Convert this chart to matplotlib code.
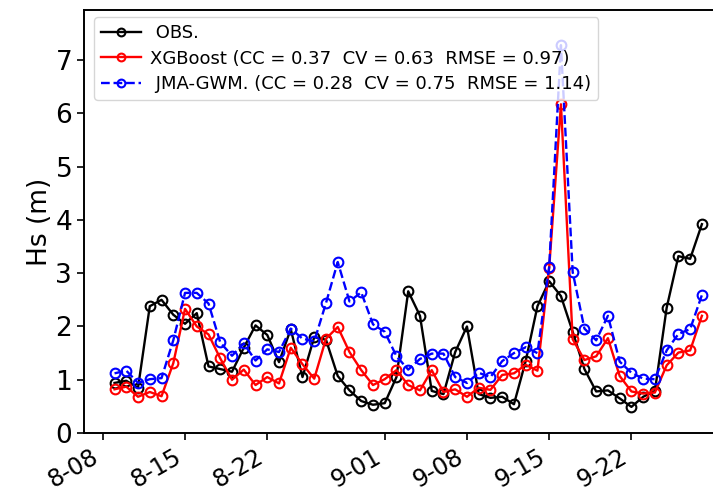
import matplotlib
matplotlib.use("Agg")
import matplotlib.pyplot as plt
import matplotlib.dates as mdates
import pandas as pd

# daily values, 8-09 .. 9-28
days = pd.date_range("2020-08-09", "2020-09-28", freq="D")

obs = [0.94, 0.98, 0.85, 2.38, 2.50, 2.22, 2.05, 2.25, 1.25, 1.20,
       1.15, 1.60, 2.02, 1.84, 1.33, 1.95, 1.05, 1.80, 1.75, 1.07,
       0.80, 0.60, 0.53, 0.56, 1.05, 2.66, 2.20, 0.79, 0.73, 1.52,
       2.00, 0.73, 0.66, 0.68, 0.54, 1.35, 2.38, 2.85, 2.57, 1.90,
       1.20, 0.78, 0.80, 0.65, 0.49, 0.68, 0.79, 2.35, 3.32, 3.27,
       3.92]
xgb = [0.82, 0.87, 0.68, 0.77, 0.69, 1.31, 2.33, 2.00, 1.85, 1.40,
       1.00, 1.19, 0.90, 1.05, 0.93, 1.60, 1.29, 1.02, 1.77, 1.99,
       1.52, 1.18, 0.90, 1.01, 1.18, 0.90, 0.80, 1.18, 0.77, 0.82,
       0.68, 0.85, 0.81, 1.09, 1.12, 1.28, 1.17, 3.10, 6.17, 1.76,
       1.37, 1.44, 1.78, 1.07, 0.78, 0.74, 0.76, 1.27, 1.51, 1.55,
       2.20]
jma = [1.12, 1.17, 0.94, 1.01, 1.03, 1.74, 2.63, 2.63, 2.43, 1.70,
       1.45, 1.68, 1.36, 1.57, 1.52, 1.96, 1.77, 1.72, 2.44, 3.21,
       2.47, 2.64, 2.04, 1.90, 1.44, 1.19, 1.39, 1.49, 1.49, 1.05,
       0.94, 1.13, 1.05, 1.35, 1.50, 1.61, 1.50, 3.12, 7.28, 3.02,
       1.96, 1.74, 2.20, 1.34, 1.13, 1.02, 1.01, 1.55, 1.86, 1.95,
       2.59]

labels = [" OBS.",
          "XGBoost (CC = 0.37  CV = 0.63  RMSE = 0.97)",
          " JMA-GWM. (CC = 0.28  CV = 0.75  RMSE = 1.14)"]

tick_dates = pd.to_datetime(["2020-08-08", "2020-08-15", "2020-08-22",
                             "2020-09-01", "2020-09-08", "2020-09-15",
                             "2020-09-22"])
tick_labels = ["8-08", "8-15", "8-22", "9-01", "9-08", "9-15", "9-22"]

fig = plt.figure(figsize=(7.13, 4.98), dpi=100)
ax = fig.add_axes([84 / 713, 65 / 498, 632 / 713, 423 / 498])

ax.plot(days, obs, color="black", marker="o", mfc="none", ms=7, mew=1.5,
        lw=1.7, label=labels[0])
ax.plot(days, xgb, color="red", marker="o", mfc="none", ms=7, mew=1.5,
        lw=1.7, label=labels[1])
ax.plot(days, jma, color="blue", marker="o", mfc="none", ms=7, mew=1.5,
        lw=1.7, ls="--", label=labels[2])

x0 = mdates.date2num(pd.Timestamp("2020-08-08"))
ax.set_xlim(x0 - 1.6, x0 + 52.2)
ax.set_ylim(0, 7.94)

ax.set_xticks(tick_dates)
ax.set_xticklabels(tick_labels, rotation=30, ha="right", fontsize=17)
ax.set_yticks(range(8))
ax.set_yticklabels([str(v) for v in range(8)], fontsize=19)
ax.tick_params(axis="both", length=5, width=1.2)
ax.set_ylabel("Hs (m)", fontsize=19, labelpad=2)

for s in ax.spines.values():
    s.set_linewidth(1.4)

leg = ax.legend(loc="upper left", bbox_to_anchor=(0.0158, 0.983),
                borderaxespad=0, fontsize=13, handlelength=2.2,
                handletextpad=0.5, labelspacing=0.4, markerscale=0.8)
leg.get_frame().set_edgecolor("#cccccc")

fig.savefig("out.png", dpi=100)
